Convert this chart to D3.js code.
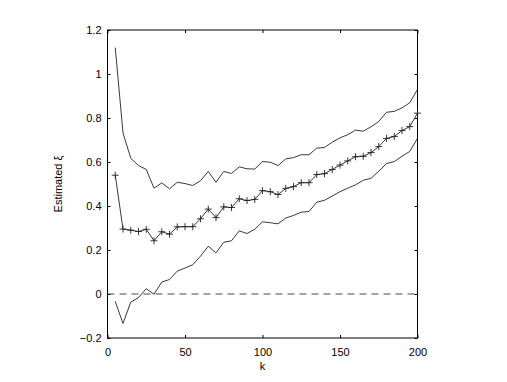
<!DOCTYPE html>
<html>
<head>
<meta charset="utf-8">
<script src="https://cdn.jsdelivr.net/npm/d3@7"></script>
<style>
  body { margin: 0; background: #fff; }
  text { font-family: "Liberation Sans", Arial, sans-serif; font-size: 11px; fill: #000; }
</style>
</head>
<body>
<svg width="507" height="382" id="chart"></svg>
<script>
// k values (number of order statistics)
const kValues = [5,10,15,20,25,30,35,40,45,50,55,60,65,70,75,80,85,90,95,100,
  105,110,115,120,125,130,135,140,145,150,155,160,165,170,175,180,185,190,195,200];

// point estimate of xi
const estimate = [0.54,0.295,0.29,0.284,0.294,0.242,0.283,0.272,0.305,0.306,
  0.306,0.342,0.386,0.347,0.396,0.393,0.433,0.425,0.43,0.47,
  0.465,0.452,0.48,0.488,0.506,0.506,0.543,0.547,0.566,0.586,
  0.605,0.624,0.626,0.643,0.67,0.707,0.716,0.743,0.761,0.822];

// upper confidence bound
const upper = [1.12,0.732,0.617,0.584,0.566,0.481,0.505,0.478,0.508,0.502,
  0.493,0.515,0.557,0.508,0.557,0.548,0.578,0.569,0.568,0.602,
  0.599,0.584,0.614,0.62,0.633,0.633,0.663,0.666,0.69,0.71,
  0.724,0.745,0.74,0.76,0.784,0.826,0.83,0.846,0.869,0.93];

// lower confidence bound
const lower = [-0.034,-0.134,-0.037,-0.016,0.024,-0.001,0.054,0.066,0.104,0.118,
  0.133,0.172,0.217,0.187,0.235,0.242,0.287,0.275,0.294,0.328,
  0.324,0.319,0.345,0.357,0.372,0.375,0.417,0.426,0.445,0.465,
  0.481,0.496,0.517,0.526,0.558,0.593,0.602,0.626,0.648,0.708];

const xTicks = [0,50,100,150,200];
const yTicks = [-0.2,0,0.2,0.4,0.6,0.8,1,1.2];

const margin = {left: 107.5, top: 30, right: 89.5, bottom: 44};
const W = 507, H = 382;
const svg = d3.select("#chart");

const x = d3.scaleLinear().domain([0, 200]).range([margin.left, W - margin.right]);
const y = d3.scaleLinear().domain([-0.2, 1.2]).range([H - margin.bottom, margin.top]);

// box
svg.append("rect")
  .attr("x", x(0)).attr("y", y(1.2))
  .attr("width", x(200) - x(0)).attr("height", y(-0.2) - y(1.2))
  .attr("fill", "none").attr("stroke", "#000").attr("stroke-width", 1);

// axes with inward ticks
const tl = 3;
svg.append("g").attr("transform", `translate(0,${y(-0.2)})`)
  .call(d3.axisBottom(x).tickValues(xTicks).tickSize(-tl).tickPadding(10).tickFormat(d3.format("d")))
  .call(g => g.select(".domain").remove());
svg.append("g").attr("transform", `translate(0,${y(1.2)})`)
  .call(d3.axisTop(x).tickValues(xTicks).tickSize(-tl).tickFormat(""))
  .call(g => g.select(".domain").remove());
svg.append("g").attr("transform", `translate(${x(0)},0)`)
  .call(d3.axisLeft(y).tickValues(yTicks).tickSize(-tl).tickPadding(6).tickFormat(d => d3.format("")(+d.toFixed(1))))
  .call(g => g.select(".domain").remove());
svg.append("g").attr("transform", `translate(${x(200)},0)`)
  .call(d3.axisRight(y).tickValues(yTicks).tickSize(-tl).tickFormat(""))
  .call(g => g.select(".domain").remove());
svg.selectAll(".tick text").style("font-family", "Liberation Sans, Arial, sans-serif").style("font-size", "11px");
svg.selectAll(".tick line").attr("stroke", "#000");

// zero dashed line
svg.append("line")
  .attr("x1", x(0)).attr("x2", x(200)).attr("y1", y(0)).attr("y2", y(0))
  .attr("stroke", "#333").attr("stroke-width", 0.9).attr("stroke-dasharray", "7,5");

const line = d3.line().x((d, i) => x(kValues[i])).y(d => y(d));
[upper, lower, estimate].forEach(s => {
  svg.append("path").datum(s).attr("d", line)
    .attr("fill", "none").attr("stroke", "#222").attr("stroke-width", 0.9);
});

// plus markers
const m = 3.5;
svg.append("g").selectAll("path").data(estimate).join("path")
  .attr("d", (d, i) => {
    const cx = x(kValues[i]), cy = y(d);
    return `M${cx - m},${cy}H${cx + m}M${cx},${cy - m}V${cy + m}`;
  })
  .attr("stroke", "#222").attr("stroke-width", 0.9);

// labels
svg.append("text").attr("x", (x(0) + x(200)) / 2).attr("y", 370)
  .attr("text-anchor", "middle").text("k");
svg.append("text")
  .attr("transform", `translate(62,${(y(-0.2) + y(1.2)) / 2}) rotate(-90)`)
  .attr("text-anchor", "middle").text("Estimated ξ");
</script>
</body>
</html>
